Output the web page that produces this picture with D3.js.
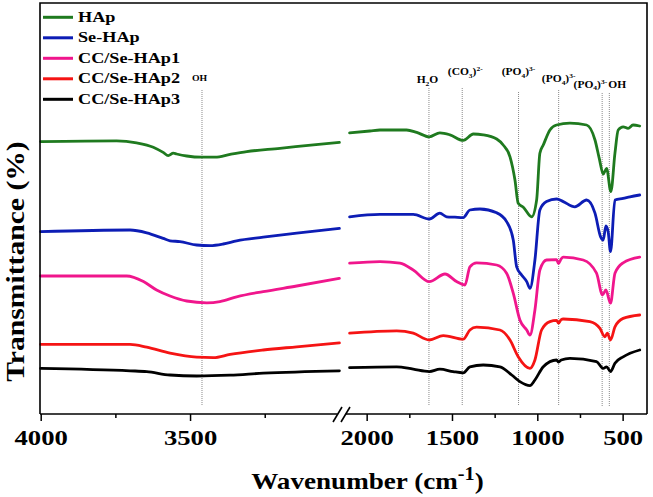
<!DOCTYPE html>
<html><head><meta charset="utf-8">
<script src="https://cdn.jsdelivr.net/npm/d3@7"></script>
<style>body{margin:0;background:#fff} svg{display:block}</style>
</head><body><svg id="c" width="653" height="497"></svg>
<script>
// ---------- data ----------
const seriesNames = ["HAp", "Se-HAp", "CC/Se-HAp1", "CC/Se-HAp2", "CC/Se-HAp3"];
const seriesColors = ["#1f7a1f", "#0d1db5", "#f0168c", "#f51414", "#000000"];

// [wavenumber, transmittance (offset, a.u.)]
const hapLeft = [[4000,68.1],[3746,68.3],[3679,67.8],[3623,66.7],[3590,65.4],[3573,64.6],[3556,65.2],[3545,65.0],[3511,64.5],[3461,64.2],[3416,64.2],[3366,64.9],[3310,65.6],[3199,66.4],[3087,67.3],[3000,67.9]];
const seHapLeft = [[4000,45.6],[3701,46.0],[3645,45.3],[3590,43.9],[3567,43.3],[3534,43.1],[3478,42.25],[3433,42.1],[3389,42.5],[3344,43.3],[3255,44.2],[3143,45.2],[3000,46.4]];
const cc1Left = [[4000,34.5],[3712,34.5],[3656,33.1],[3612,31.0],[3567,29.5],[3511,28.25],[3444,27.8],[3400,28.1],[3344,29.3],[3255,30.6],[3143,32.0],[3000,33.9]];
const cc2Left = [[4000,17.4],[3701,17.4],[3645,16.7],[3567,15.2],[3478,14.2],[3422,14.1],[3366,14.9],[3255,16.0],[3143,16.8],[3000,17.8]];
const cc3Left = [[4000,11.4],[3701,10.8],[3645,10.6],[3567,9.75],[3478,9.5],[3366,9.7],[3255,10.2],[3000,10.8]];

const hapRight = [[2100,70.3],[1981,70.75],[1922,71.0],[1766,71.0],[1707,70.4],[1633,69.3],[1571,70.3],[1512,69.8],[1434,68.4],[1375,70.0],[1317,69.8],[1238,68.75],[1200,67.25],[1160,64.3],[1131,58.5],[1112,52.7],[1082,51.7],[1033,49.3],[1004,53.5],[985,65.2],[965,67.25],[926,71.0],[887,72.25],[809,72.7],[711,72.25],[662,68.5],[637,63.9],[614,60.0],[594,61.4],[569,55.6],[545,65.2],[526,71.0],[497,71.8],[468,71.4],[439,72.25],[400,72.0]];
const seHapRight = [[2100,49.3],[1922,49.9],[1727,49.9],[1633,48.75],[1571,50.2],[1531,49.3],[1483,49.2],[1434,49.1],[1395,51.0],[1336,51.25],[1238,50.3],[1180,48.1],[1141,43.5],[1121,36.8],[1092,34.75],[1062,33.1],[1043,31.4],[1014,38.5],[985,51.0],[946,53.1],[887,53.75],[848,53.1],[780,51.8],[711,53.5],[662,50.2],[629,44.3],[614,43.5],[598,47.0],[585,45.6],[571,40.6],[545,53.5],[497,53.9],[457,54.3],[400,54.75]];
const cc1Right = [[2100,37.7],[1922,38.1],[1805,37.7],[1727,36.0],[1633,33.1],[1541,35.0],[1473,33.1],[1424,32.25],[1395,36.8],[1356,37.8],[1238,37.25],[1180,35.2],[1141,30.2],[1102,23.5],[1062,21.0],[1043,19.75],[1014,26.0],[985,36.0],[946,38.5],[887,38.6],[876,37.6],[860,38.8],[848,39.2],[731,38.5],[653,35.2],[618,29.75],[598,31.0],[571,27.7],[545,35.2],[497,37.8],[400,39.2]];
const cc2Right = [[2100,20.2],[1824,20.8],[1727,20.2],[1633,18.5],[1551,19.6],[1434,18.7],[1395,21.0],[1356,21.7],[1219,21.0],[1160,18.5],[1112,14.3],[1043,11.4],[1014,13.5],[975,21.0],[926,23.1],[887,23.4],[876,22.7],[860,23.6],[848,23.75],[692,23.1],[633,21.4],[604,19.3],[590,20.2],[571,18.5],[545,21.8],[497,23.9],[400,24.75]];
const cc3Right = [[2100,11.6],[1824,11.8],[1727,11.2],[1633,10.6],[1571,11.2],[1493,10.6],[1434,10.3],[1395,11.8],[1317,12.25],[1219,11.8],[1150,9.75],[1102,8.1],[1043,7.1],[1014,8.5],[965,11.8],[887,13.5],[876,13.0],[860,13.5],[809,13.9],[653,13.1],[614,11.4],[594,11.8],[571,10.6],[545,12.7],[497,14.3],[400,16.0]];

const leftData = [hapLeft, seHapLeft, cc1Left, cc2Left, cc3Left];
const rightData = [hapRight, seHapRight, cc1Right, cc2Right, cc3Right];

const leftMajorTicks = [4000, 3500];
const leftMinorTicks = [3750, 3250];
const rightMajorTicks = [2000, 1500, 1000, 500];
const rightMinorTicks = [1750, 1250, 750];

// band markers
const leftBandWn = [3460];
const leftBandLabels = [[["OH", ""]]];
const rightBandWn = [1635, 1440, 1110, 875, 620, 578];
const rightBandLabels = [
  [["H",""],["2","sub"],["O",""]],
  [["(CO",""],["3","sub"],[")",""],["2-","sup"]],
  [["(PO",""],["4","sub"],[")",""],["3-","sup"]],
  [["(PO",""],["4","sub"],[")",""],["3-","sup"]],
  [["(PO",""],["4","sub"],[")",""],["3-","sup"]],
  [["OH",""]]
];

// ---------- layout ----------
const svg = d3.select("#c");
const FONT = "'Liberation Serif','Times New Roman',Times,serif";
const plotL = 40, plotR = 647, plotT = 3, plotB = 414;

const xL = d3.scaleLinear().domain([4000, 3000]).range([40.7, 339.4]);
const xR = d3.scaleLinear().domain([2100, 400]).range([349.6, 639.7]);
const y = d3.scaleLinear().domain([0, 100]).range([414, 14]);

function richText(sel, parts, size) {
  let shift = 0;
  parts.forEach(([t, kind]) => {
    const target = kind === "sub" ? size * 0.25 : kind === "sup" ? -size * 0.4 : 0;
    sel.append("tspan").text(t)
      .attr("font-size", kind ? size * 0.65 : size)
      .attr("dy", target - shift);
    shift = target;
  });
}

const lineG = svg.append("g");
const leftLayout = [{top: 90, bx: -2.5, by: 81, anchor: "middle", size: 8.5}];
leftBandWn.forEach((wn, i) => {
  const x = xL(wn), L = leftLayout[i];
  lineG.append("line").attr("x1", x).attr("x2", x).attr("y1", L.top).attr("y2", 406)
    .attr("stroke", "#8a8a8a").attr("stroke-width", 1).attr("stroke-dasharray", "1,1");
  const t = lineG.append("text").attr("transform", `translate(${x + L.bx},${L.by}) scale(1.15,1)`)
    .attr("text-anchor", L.anchor).attr("font-family", FONT).attr("font-weight", "bold");
  richText(t, leftBandLabels[i], L.size);
});
const rightLayout = [
  {top: 88, bx: -1.5, by: 83, anchor: "middle"},
  {top: 88, bx: 3, by: 75, anchor: "middle"},
  {top: 92, bx: 0, by: 75, anchor: "middle"},
  {top: 90, bx: 0, by: 82, anchor: "middle"},
  {top: 93, bx: 5, by: 87.5, anchor: "end"},
  {top: 93, bx: -1, by: 87.5, anchor: "start"}
];
rightBandWn.forEach((wn, i) => {
  const x = xR(wn), L = rightLayout[i];
  lineG.append("line").attr("x1", x).attr("x2", x).attr("y1", L.top).attr("y2", 406)
    .attr("stroke", "#8a8a8a").attr("stroke-width", 1).attr("stroke-dasharray", "1,1");
  const t = lineG.append("text").attr("transform", `translate(${x + L.bx},${L.by}) scale(1.15,1)`)
    .attr("text-anchor", L.anchor).attr("font-family", FONT).attr("font-weight", "bold");
  richText(t, rightBandLabels[i], 10);
});

// spectra
const lineL = d3.line().x(d => xL(d[0])).y(d => y(d[1])).curve(d3.curveMonotoneX);
const lineRt = d3.line().x(d => xR(d[0])).y(d => y(d[1])).curve(d3.curveMonotoneX);
const specG = svg.append("g").attr("fill", "none").attr("stroke-width", 2.8)
  .attr("stroke-linejoin", "round").attr("stroke-linecap", "round");
leftData.forEach((s, i) => specG.append("path").attr("d", lineL(s)).attr("stroke", seriesColors[i]));
rightData.forEach((s, i) => specG.append("path").attr("d", lineRt(s)).attr("stroke", seriesColors[i]));

// frame
const frame = svg.append("g").attr("stroke", "#000").attr("stroke-width", 1.6).attr("fill", "none");
frame.append("path").attr("d", `M${plotL},${plotB}V${plotT}H${plotR}V${plotB}`);
frame.append("line").attr("x1", plotL).attr("x2", 337.5).attr("y1", plotB).attr("y2", plotB);
frame.append("line").attr("x1", 345.5).attr("x2", plotR).attr("y1", plotB).attr("y2", plotB);
frame.append("line").attr("x1", 333).attr("y1", 422).attr("x2", 342).attr("y2", 407);
frame.append("line").attr("x1", 341).attr("y1", 422).attr("x2", 350).attr("y2", 407);

// axes
function styleAxis(g) {
  g.select(".domain").remove();
  g.selectAll(".tick line").attr("stroke", "#000").attr("stroke-width", 1.5);
  g.selectAll(".tick text").attr("font-family", FONT).attr("font-weight", "bold")
    .attr("font-size", 21).attr("fill", "#000").attr("y", 16)
    .attr("transform", "scale(1.27,1)");
}
svg.append("g").attr("transform", `translate(0,${plotB})`)
  .call(d3.axisBottom(xL).tickValues(leftMajorTicks).tickSize(7).tickFormat(d3.format("d"))).call(styleAxis);
svg.append("g").attr("transform", `translate(0,${plotB})`)
  .call(d3.axisBottom(xL).tickValues(leftMinorTicks).tickSize(4).tickFormat("")).call(styleAxis);
svg.append("g").attr("transform", `translate(0,${plotB})`)
  .call(d3.axisBottom(xR).tickValues(rightMajorTicks).tickSize(7).tickFormat(d3.format("d"))).call(styleAxis);
svg.append("g").attr("transform", `translate(0,${plotB})`)
  .call(d3.axisBottom(xR).tickValues(rightMinorTicks).tickSize(4).tickFormat("")).call(styleAxis);

// axis titles
const xt = svg.append("text").attr("transform", "translate(367.5,489) scale(1.13,1)")
  .attr("text-anchor", "middle").attr("font-family", FONT).attr("font-weight", "bold").attr("font-size", 24);
xt.append("tspan").text("Wavenumber (cm");
xt.append("tspan").text("-1").attr("font-size", 18).attr("dy", -9);
xt.append("tspan").text(")").attr("dy", 9);

svg.append("text").attr("transform", "translate(24,261.5) rotate(-90) scale(1.14,1)")
  .attr("text-anchor", "middle").attr("font-family", FONT).attr("font-weight", "bold")
  .attr("font-size", 26).text("Transmittance (%)");

// legend
const leg = svg.append("g");
seriesNames.forEach((n, i) => {
  const ly = 17.3 + i * 20.5;
  leg.append("line").attr("x1", 43).attr("x2", 73).attr("y1", ly).attr("y2", ly)
    .attr("stroke", seriesColors[i]).attr("stroke-width", 3);
  leg.append("text").attr("transform", `translate(78,${ly + 4.6}) scale(1.3,1)`)
    .attr("font-family", FONT).attr("font-weight", "bold").attr("font-size", 14).text(n);
});
</script></body></html>
